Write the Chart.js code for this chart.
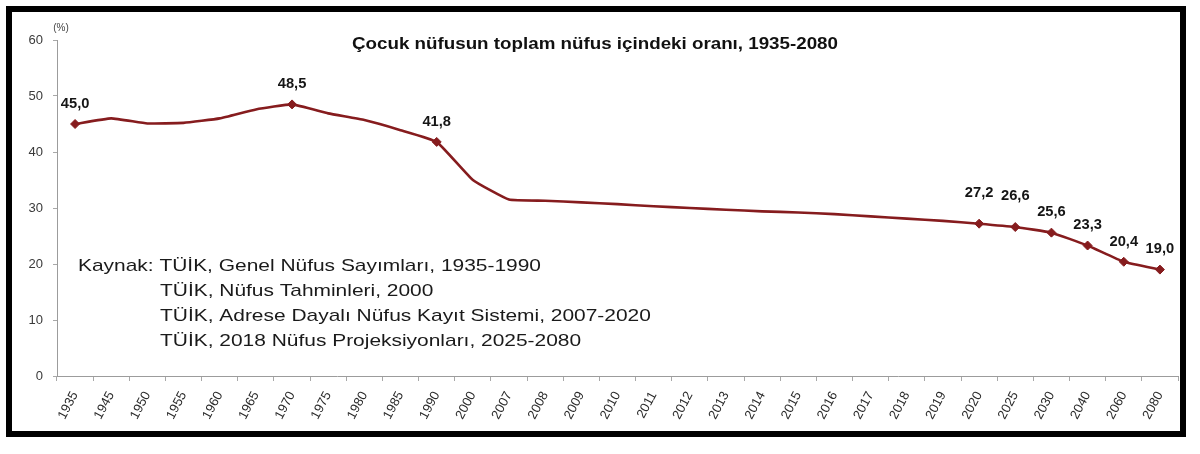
<!DOCTYPE html>
<html lang="tr">
<head>
<meta charset="utf-8">
<title>Çocuk nüfusun toplam nüfus içindeki oranı, 1935-2080</title>
<script src="https://cdn.jsdelivr.net/npm/chart.js@4.4.1/dist/chart.umd.min.js"></script>
<style>
    html, body { margin: 0; padding: 0; background: #fff; }
    #wrap { position: relative; width: 1200px; height: 454px; }
    #frame {
        position: absolute; left: 6px; top: 6px;
        width: 1168px; height: 419px;
        border: 6px solid #000;
        pointer-events: none;
    }
</style>
</head>
<body>
<div id="wrap">
    <canvas id="lineChart" width="1200" height="454"></canvas>
    <div id="frame"></div>
</div>
<script>
const years = ['1935', '1945', '1950', '1955', '1960', '1965', '1970', '1975', '1980', '1985',
    '1990', '2000', '2007', '2008', '2009', '2010', '2011', '2012', '2013', '2014', '2015',
    '2016', '2017', '2018', '2019', '2020', '2025', '2030', '2040', '2060', '2080'];

// share of children (%) in total population
const childShare = [45.0, 46.0, 45.1, 45.2, 46.0, 47.6, 48.5, 46.9, 45.7, 43.9,
    41.8, 35.0, 31.5, 31.3, 31.0, 30.7, 30.3, 30.0, 29.7, 29.4, 29.2,
    28.9, 28.5, 28.1, 27.7, 27.2, 26.6, 25.6, 23.3, 20.4, 19.0];

// years that get a marker and a value label
const labelledYears = ['1935', '1970', '1990', '2020', '2025', '2030', '2040', '2060', '2080'];

const yTicks = [0, 10, 20, 30, 40, 50, 60];

const titleText = 'Çocuk nüfusun toplam nüfus içindeki oranı, 1935-2080';
const unitText = '(%)';
const sourceLines = [
    'Kaynak: TÜİK, Genel Nüfus Sayımları, 1935-1990',
    'TÜİK, Nüfus Tahminleri, 2000',
    'TÜİK, Adrese Dayalı Nüfus Kayıt Sistemi, 2007-2020',
    'TÜİK, 2018 Nüfus Projeksiyonları, 2025-2080'
];

const FONT = '"Liberation Sans", Arial, Helvetica, sans-serif';
const LINE_COLOR = '#861c1e';

Chart.defaults.font.family = FONT;

// draw text squeezed/stretched horizontally by sx
const drawText = (ctx, text, x, y, sx, align) => {
    ctx.save();
    ctx.translate(x, y);
    ctx.scale(sx, 1);
    ctx.textAlign = align;
    ctx.fillText(text, 0, 0);
    ctx.restore();
};

const annotations = {
    id: 'annotations',
    afterDatasetsDraw(chart) {
        const { ctx } = chart;
        ctx.save();
        ctx.textBaseline = 'middle';

        // title
        ctx.fillStyle = '#111';
        ctx.font = `bold 17px ${FONT}`;
        const titleScale = 486 / ctx.measureText(titleText).width;
        drawText(ctx, titleText, 595, 44, titleScale, 'center');

        // unit above the y axis
        ctx.fillStyle = '#444';
        ctx.font = `10px ${FONT}`;
        drawText(ctx, unitText, 61, 28, 1, 'center');

        // source note
        ctx.fillStyle = '#1a1a1a';
        ctx.font = `17px ${FONT}`;
        const srcScale = 463 / ctx.measureText(sourceLines[0]).width;
        sourceLines.forEach((line, i) => {
            drawText(ctx, line, i === 0 ? 78 : 160, 266 + i * 25, srcScale, 'left');
        });

        // value labels
        const meta = chart.getDatasetMeta(0);
        ctx.fillStyle = '#151515';
        ctx.font = `bold 14px ${FONT}`;
        meta.data.forEach((pt, i) => {
            if (!labelledYears.includes(years[i])) return;
            const lift = (years[i] === '2020' || years[i] === '2025') ? 31 : 20;
            const text = childShare[i].toFixed(1).replace('.', ',');
            drawText(ctx, text, pt.x, pt.y - lift, 1.05, 'center');
        });
        ctx.restore();
    }
};

const markerRadius = (ctx) => labelledYears.includes(years[ctx.dataIndex]) ? 4.5 : 0;

const childChart = new Chart(document.getElementById('lineChart'), {
    type: 'line',
    data: {
        labels: years,
        datasets: [{
            label: 'Çocuk nüfus oranı',
            data: childShare,
            borderColor: LINE_COLOR,
            backgroundColor: LINE_COLOR,
            borderWidth: 2.6,
            tension: 0.12,
            pointStyle: 'rectRot',
            pointRadius: markerRadius,
            pointHoverRadius: markerRadius,
            pointBorderWidth: 1
        }]
    },
    options: {
        responsive: false,
        animation: false,
        layout: {
            padding: { top: 40, right: 22, bottom: 0, left: 0 }
        },
        plugins: {
            legend: { display: false },
            tooltip: { enabled: false },
            title: { display: false }
        },
        scales: {
            x: {
                offset: true,
                grid: {
                    drawOnChartArea: false,
                    drawTicks: true,
                    tickLength: 5,
                    color: '#a8a8a8',
                    offset: true
                },
                border: { display: true, color: '#9c9c9c', width: 1 },
                ticks: {
                    autoSkip: false,
                    maxRotation: 62,
                    minRotation: 62,
                    padding: 8,
                    color: '#2a2a2a',
                    font: { size: 13 }
                },
                afterFit: (scale) => { scale.height = 78; }
            },
            y: {
                min: yTicks[0],
                max: yTicks[yTicks.length - 1],
                afterBuildTicks: (scale) => {
                    scale.ticks = yTicks.map(v => ({ value: v }));
                },
                grid: {
                    drawOnChartArea: false,
                    tickLength: 4,
                    color: '#a8a8a8'
                },
                border: { display: true, color: '#9c9c9c', width: 1 },
                ticks: {
                    padding: 10,
                    color: '#3a3a3a',
                    font: { size: 13 }
                },
                afterFit: (scale) => { scale.width = 57; }
            }
        }
    },
    plugins: [annotations]
});
</script>
</body>
</html>
